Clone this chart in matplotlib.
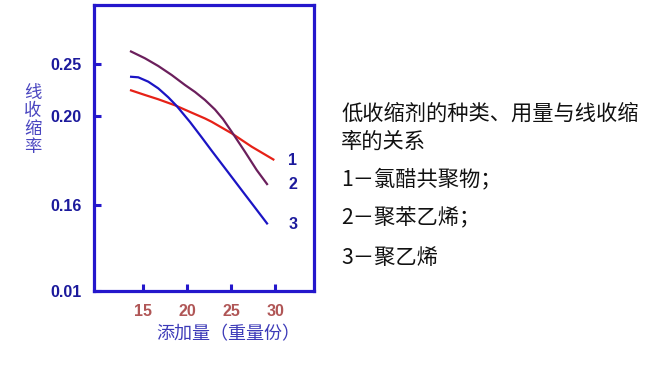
import numpy as np
import matplotlib
matplotlib.use("Agg")
import matplotlib.pyplot as plt

plt.rcParams['font.family'] = ['Liberation Sans', 'Noto Sans CJK SC', 'DejaVu Sans']

# ---- data ----
x1 = [13.49, 15.19, 16.70, 18.60, 20.50, 22.01, 22.77, 25.05, 27.32, 29.89]
y1 = [0.2250, 0.2202, 0.2161, 0.2103, 0.2032, 0.1989, 0.1974, 0.1922, 0.1862, 0.1802]

x2 = [13.49, 15.19, 16.70, 18.23, 19.74, 20.88, 22.01, 23.15, 24.06, 25.05, 26.56, 27.89, 29.14]
y2 = [0.2625, 0.2555, 0.2481, 0.2394, 0.2298, 0.2231, 0.2154, 0.2062, 0.1986, 0.1929, 0.1839, 0.1757, 0.1690]

x3 = [13.49, 14.43, 15.57, 16.70, 17.84, 18.80, 20.31, 21.64, 22.77, 24.66, 26.56, 27.47, 29.14]
y3 = [0.2378, 0.2372, 0.2330, 0.2266, 0.2180, 0.2096, 0.1973, 0.1904, 0.1844, 0.1746, 0.1647, 0.1600, 0.1263]

xticks = [15, 20, 25, 30]
yticks = [0.01, 0.16, 0.20, 0.25]
ytick_labels = ['0.01', '0.16', '0.20', '0.25']
curve_labels = ['1', '2', '3']

title_lines = ['低收缩剂的种类、用量与线收缩', '率的关系']
legend_lines = ['1－氯醋共聚物；', '2－聚苯乙烯；', '3－聚乙烯']

# non-uniform vertical scale of the original chart
V = [0.01, 0.16, 0.20, 0.25, 0.3067]
P = [0.0, 0.3007, 0.6119, 0.7937, 1.0]

def fwd(v):
    return np.interp(v, V, P)

def inv(p):
    return np.interp(p, P, V)

fig = plt.figure(figsize=(6.66, 3.80), dpi=100)
ax = fig.add_axes([94/666, 89/380, 220/666, 286/380])
ax.set_yscale('function', functions=(fwd, inv))

red = '#e62117'
purple = '#6b1f5c'
blue = '#1b14c4'
frame = '#2417cc'
navy = '#1c1a9c'

ax.plot(x1, y1, color=red, lw=1.6, solid_capstyle='butt', solid_joinstyle='round')
ax.plot(x2, y2, color=purple, lw=1.6, solid_capstyle='butt', solid_joinstyle='round')
ax.plot(x3, y3, color=blue, lw=1.6, solid_capstyle='butt', solid_joinstyle='round')

ax.set_xlim(9.40, 34.40)
ax.set_ylim(0.01, 0.3067)

ax.set_xticks(xticks)
ax.set_xticklabels([str(t) for t in xticks])
ax.set_yticks(yticks)
ax.set_yticklabels(ytick_labels)

for s in ax.spines.values():
    s.set_color(frame)
    s.set_linewidth(2.3)

ax.tick_params(axis='both', direction='in', length=5, width=2.2, color=frame)
ax.tick_params(axis='y', pad=9, labelsize=11.5, labelcolor=navy)
ax.tick_params(axis='x', pad=9, labelsize=11.5, labelcolor='#b05656')
for lab in ax.get_yticklabels() + ax.get_xticklabels():
    lab.set_fontweight('bold')
ax.minorticks_off()

# curve number labels
ends = [(x1[-1], y1[-1]), (x2[-1], y2[-1]), (x3[-1], y3[-1])]
for (xe, ye), lab in zip(ends, curve_labels):
    ax.annotate(lab, (x3[-1], ye), xytext=(18, 0), textcoords='offset points',
                ha='center', va='center', fontsize=11.5, fontweight='bold',
                color=navy)

cjk = ['Noto Sans CJK SC', 'DejaVu Sans']

# axis titles
fig.text(33/666, 1 - 120/380, '\n'.join('线收缩率'), ha='center', va='center',
         fontsize=12.5, color='#4a46c0', linespacing=1.0, family=cjk)
fig.text(228/666, 1 - 334/380, '添加量（重量份）', ha='center', va='center',
         fontsize=13, color='#3c3ab8', family=cjk)

# right-side description
fig.text(341/666, 1 - 114/380, title_lines[0], ha='left', va='center',
         fontsize=15.3, color='#111111', family=cjk, fontweight='medium')
fig.text(341/666, 1 - 142/380, title_lines[1], ha='left', va='center',
         fontsize=15.3, color='#111111', family=cjk, fontweight='medium')
for i, t in enumerate(legend_lines):
    fig.text(341/666, 1 - (179 + 39.5 * i)/380, t, ha='left', va='center',
             fontsize=15.3, color='#111111', family=cjk, fontweight='medium')

fig.savefig('out.png', dpi=100, facecolor='white')
